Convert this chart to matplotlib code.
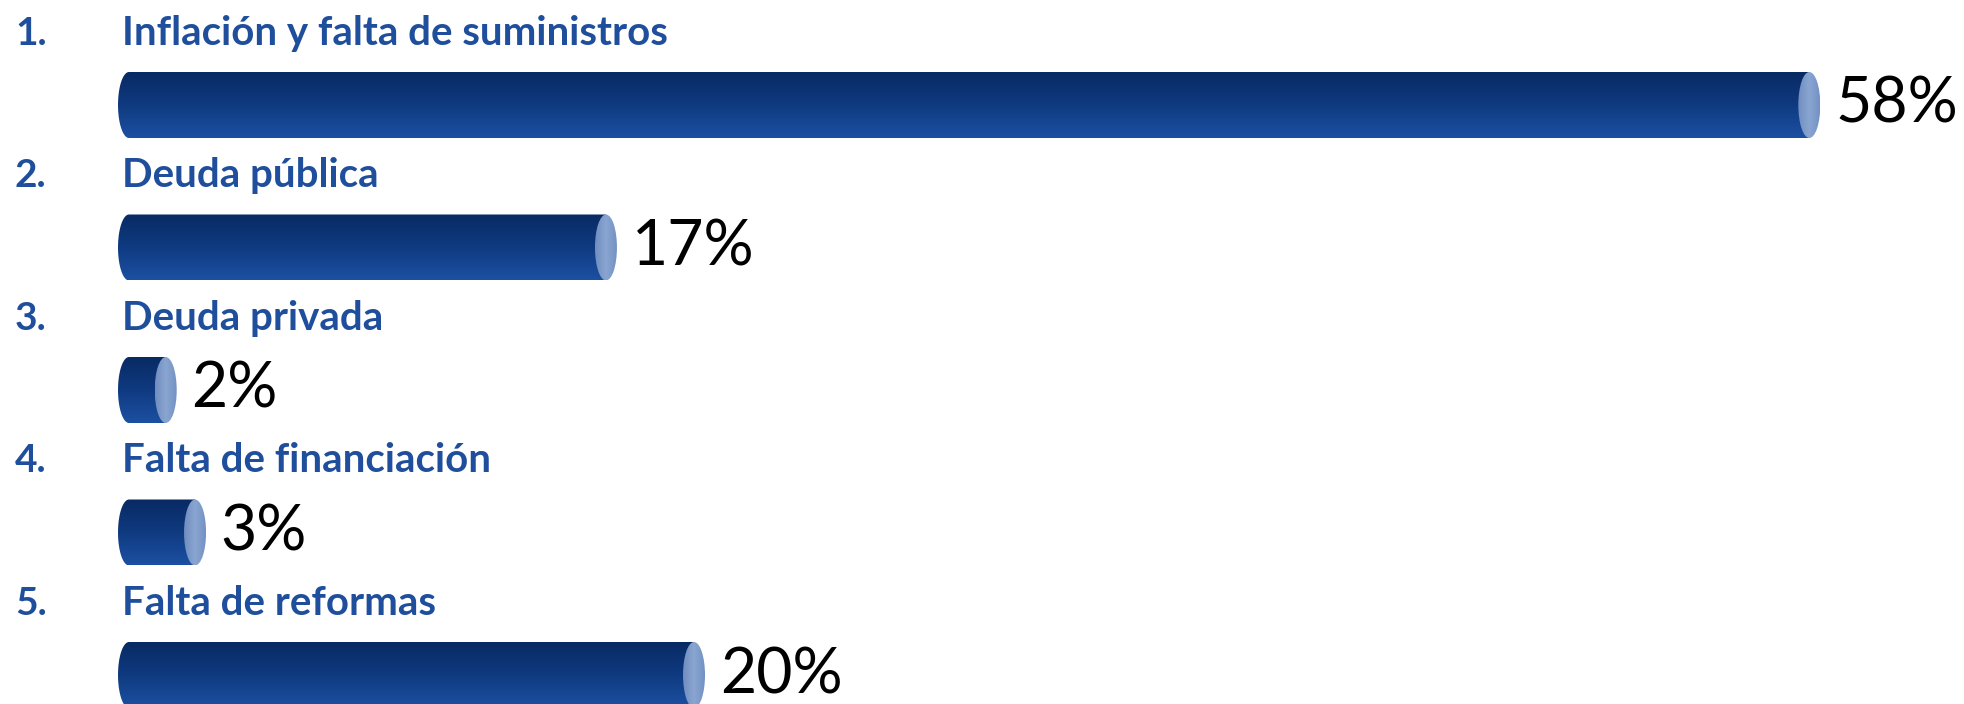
import numpy as np
import matplotlib.pyplot as plt
from matplotlib.path import Path
from matplotlib.patches import PathPatch, Ellipse
from matplotlib.colors import LinearSegmentedColormap

# survey answers, in order
numbers = ['1.', '2.', '3.', '4.', '5.']
labels = ['Inflación y falta de suministros', 'Deuda pública', 'Deuda privada',
          'Falta de financiación', 'Falta de reformas']
values = [58, 17, 2, 3, 20]

W, H = 1964, 704
px_per_unit = 29.35      # horizontal pixels per percentage point
left_px = 118            # left edge of the bars
row_px = 142.5           # distance between bars
first_px = 105           # centre of first bar, from top

fig = plt.figure(figsize=(W / 100, H / 100), dpi=100)
ax = fig.add_axes([0, 0, 1, 1])
ax.axis('off')

bar_h = 66 / row_px
rx = 11 / px_per_unit
blue = '#1f4f9c'

body_cmap = LinearSegmentedColormap.from_list('body', ['#082a63', '#0f3a80', '#1c50a2'])
cap_cmap = LinearSegmentedColormap.from_list('cap', ['#6f8dc0', '#8aa5d0', '#7392c4'])
grad = np.linspace(0, 1, 256).reshape(-1, 1)

for i, (num, lab, v) in enumerate(zip(numbers, labels, values)):
    top, bot = i - bar_h / 2, i + bar_h / 2
    xr = v - rx  # centre of the right face

    # body: rounded left end + straight part up to the right face
    t = np.linspace(np.pi / 2, 3 * np.pi / 2, 40)
    ell = np.column_stack([rx + rx * np.cos(t), i - (bar_h / 2) * np.sin(t)])
    verts = np.vstack([[[xr, top]], [[rx, top]], ell, [[rx, bot]], [[xr, bot]], [[xr, top]]])
    patch = PathPatch(Path(verts, closed=True), facecolor='none', edgecolor='none')
    ax.add_patch(patch)
    im = ax.imshow(grad, cmap=body_cmap, aspect='auto',
                   extent=[0, xr, bot, top], origin='upper', zorder=2)
    im.set_clip_path(patch)

    # right face
    cap = Ellipse((xr, i), 2 * rx, bar_h, facecolor='none', edgecolor='none', zorder=3)
    ax.add_patch(cap)
    imc = ax.imshow(np.linspace(0, 1, 64).reshape(1, -1), cmap=cap_cmap, aspect='auto',
                    extent=[xr - rx, xr + rx, bot, top], zorder=3)
    imc.set_clip_path(cap)

    # texts
    ax.text(-103 / px_per_unit, i - 0.505, num, color=blue, fontsize=28,
            fontweight='bold', family='Lato', ha='left', va='center')
    ax.text(4 / px_per_unit, i - 0.505, lab, color=blue, fontsize=29,
            fontweight='bold', family='Lato', ha='left', va='center')
    ax.text(v + 0.5, i, f'{v}%', color='black', fontsize=45,
            family='Lato', ha='left', va='center')

ax.set_xlim(-left_px / px_per_unit, (W - left_px) / px_per_unit)
ax.set_ylim((H - first_px) / row_px, -first_px / row_px)

fig.savefig('out.png', dpi=100)
